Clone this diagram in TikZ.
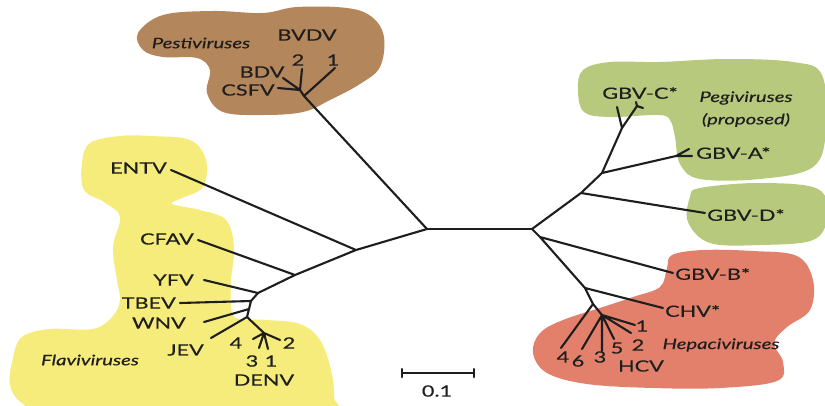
\documentclass[tikz,border=0pt]{standalone}
\usepackage{fontspec}
\setmainfont{Lato}[FakeStretch=1.4, FakeBold=0.35]
\definecolor{ink}{HTML}{1E1E1E}
\definecolor{pestic}{HTML}{B3865B}
\definecolor{flavic}{HTML}{F6EC7C}
\definecolor{pegic}{HTML}{B7C97D}
\definecolor{hepac}{HTML}{E3806C}
\begin{document}
\begin{tikzpicture}[x=1pt,y=-1pt,
  every node/.style={font=\fontsize{15.5}{18}\selectfont, text=ink, inner sep=1pt},
  grp/.style={font=\fontsize{14.5}{17}\selectfont\itshape},
  br/.style={draw=ink, line width=2.1pt, line cap=round, line join=round}]
\useasboundingbox (0,0) rectangle (825,405);
\fill[white] (0,0) rectangle (825,405);

% ---- group blobs
\fill[pestic] plot[smooth cycle, tension=0.6] coordinates {(138,33) (163,15) (213,11) (263,13) (297,7) (347,8) (372,17) (384,37) (380,67) (360,84) (330,100) (303,112) (263,115) (223,112) (207,93) (210,70) (197,58) (163,57) (143,50)};
\fill[flavic] plot[smooth cycle, tension=0.6] coordinates {(90,143) (120,136) (150,136) (190,140) (206,160) (203,187) (182,198) (172,204) (200,210) (226,220) (234,247) (231,280) (231,303) (236,318) (267,320) (300,324) (320,340) (331,370) (334,397) (328,412) (200,415) (50,412) (22,403) (10,385) (13,358) (22,337) (50,329) (93,329) (113,316) (120,300) (117,280) (113,247) (120,217) (104,202) (84,190) (82,163)};
\fill[pegic] plot[smooth cycle, tension=0.6] coordinates {(578,90) (583,70) (610,62) (660,62) (727,59) (793,62) (822,75) (826,130) (813,167) (760,179) (700,179) (680,164) (675,137) (670,120) (658,115) (610,117) (584,112)};
\fill[pegic] plot[smooth cycle, tension=0.6] coordinates {(690,197) (700,188) (760,183) (818,189) (827,217) (813,240) (760,245) (710,243) (688,222)};
\fill[hepac] plot[smooth cycle, tension=0.6] coordinates {(667,268) (672,255) (703,250) (753,251) (797,256) (813,280) (810,310) (787,327) (774,343) (783,362) (777,381) (720,388) (653,388) (587,384) (547,373) (533,353) (540,333) (563,320) (603,307) (633,297) (660,287)};

% ---- tree points
\coordinate (L0) at (427,229);
\coordinate (R0) at (532,229);
% pestiviruses
\coordinate (P1) at (304,96);
\coordinate (P2) at (300,90);
\coordinate (pI) at (335,68);
\coordinate (pII) at (302,69);
\coordinate (pbdv) at (283,78);
\coordinate (pcsfv) at (278,88);
% flaviviruses
\coordinate (F1) at (356,250);
\coordinate (F2) at (295,275);
\coordinate (F3) at (258,293);
\coordinate (F4) at (251,301);
\coordinate (F5) at (249,309);
\coordinate (F6) at (247,317);
\coordinate (F7) at (264,333);
\coordinate (fentv) at (171,170);
\coordinate (fcfav) at (198,240);
\coordinate (fyfv) at (204,280);
\coordinate (ftbev) at (180,303);
\coordinate (fwnv) at (204,322);
\coordinate (fjev) at (211,338);
\coordinate (dIV) at (253,339);
\coordinate (dIII) at (259,348);
\coordinate (dI) at (268,349);
\coordinate (dII) at (280,340);
% pegiviruses
\coordinate (G1) at (581,193);
\coordinate (G2) at (602,173);
\coordinate (G3) at (622,128);
\coordinate (G4) at (637,106);
\coordinate (G5) at (676,156);
\coordinate (gd) at (705,213);
\coordinate (gaI) at (689,149);
\coordinate (gaII) at (692,156);
\coordinate (gcI) at (617,107);
\coordinate (gcII) at (643,108);
\coordinate (gcIII) at (636,102);
% hepaciviruses
\coordinate (H1) at (540,237);
\coordinate (H2) at (585,288);
\coordinate (H3) at (593,304);
\coordinate (H4) at (602,315);
\coordinate (hb) at (673,273);
\coordinate (hchv) at (663,308);
\coordinate (hIV) at (561,348);
\coordinate (hVI) at (582,349);
\coordinate (hIII) at (602,351);
\coordinate (hV) at (614,339);
\coordinate (hII) at (631,333);
\coordinate (hI) at (635,325);

% ---- branches
\draw[br] (L0) -- (R0);
\draw[br] (L0) -- (P1) (P1) -- (pI) (P1) -- (P2) (P2) -- (pII) (P2) -- (pbdv) (P2) -- (pcsfv);
\draw[br] (L0) -- (F1) (F1) -- (fentv) (F1) -- (F2) (F2) -- (fcfav) (F2) -- (F3) (F3) -- (fyfv)
  (F3) -- (F4) (F4) -- (ftbev) (F4) -- (F5) (F5) -- (fwnv) (F5) -- (F6) (F6) -- (fjev) (F6) -- (F7)
  (F7) -- (dIV) (F7) -- (dIII) (F7) -- (dI) (F7) -- (dII);
\draw[br] (R0) -- (G1) (G1) -- (gd) (G1) -- (G2) (G2) -- (G5) (G5) -- (gaI) (G5) -- (gaII)
  (G2) -- (G3) (G3) -- (gcI) (G3) -- (G4) (G4) -- (gcII) (G4) -- (gcIII);
\draw[br] (R0) -- (H1) (H1) -- (hb) (H1) -- (H2) (H2) -- (hchv) (H2) -- (H3) (H3) -- (hIV) (H3) -- (H4)
  (H4) -- (hVI) (H4) -- (hIII) (H4) -- (hV) (H4) -- (hII) (H4) -- (hI);

% ---- labels: pestiviruses
\node[grp] (tpesti) at (201,43) {Pestiviruses};
\node (tbvdv) at (307,35) {BVDV};
\node (tpII) at (298,60) {2};
\node (tpI) at (333,60) {1};
\node (tbdv) at (262,72) {BDV};
\node (tcsfv) at (248,90) {CSFV};
% flaviviruses
\node[anchor=east] (tentv) at (168,168) {ENTV};
\node[anchor=east] (tcfav) at (195,239) {CFAV};
\node[anchor=east] (tyfv) at (195,280) {YFV};
\node[anchor=east] (ttbev) at (177,303) {TBEV};
\node[anchor=east] (twnv) at (187,323) {WNV};
\node[anchor=east] (tjev) at (205,350) {JEV};
\node (tdIV) at (236,343) {4};
\node (tdIII) at (252,361) {3};
\node (tdI) at (271,361) {1};
\node (tdII) at (289,343) {2};
\node (tdenv) at (264,380) {DENV};
\node[grp] (tflavi) at (90,360) {Flaviviruses};
% pegiviruses
\node (tgbvc) at (640,93) {GBV-C*};
\node[grp] (tpegi) at (746,98) {Pegiviruses};
\node[grp] (tprop) at (746,120) {(proposed)};
\node[anchor=west] (tgbva) at (695,153) {GBV-A*};
\node[anchor=west] (tgbvd) at (706,215) {GBV-D*};
% hepaciviruses
\node[anchor=west] (tgbvb) at (674,274) {GBV-B*};
\node[anchor=west] (tchv) at (664,311) {CHV*};
\node (thI) at (642,326) {1};
\node (thII) at (638,345) {2};
\node (thV) at (617,348) {5};
\node (thIII) at (600,357) {3};
\node (thVI) at (578,361) {6};
\node (thIV) at (563,357) {4};
\node (thcv) at (641,366) {HCV};
\node[grp] (thepa) at (721,345) {Hepaciviruses};

% ---- scale bar
\coordinate (sbA) at (402,373);
\coordinate (sbB) at (474,373);
\draw[br] (sbA) -- (sbB);
\draw[br] ([yshift=-4pt]sbA) -- ([yshift=4pt]sbA) ([yshift=-4pt]sbB) -- ([yshift=4pt]sbB);
\node (tscale) at (437,391) {0.1};
\end{tikzpicture}
\end{document}
